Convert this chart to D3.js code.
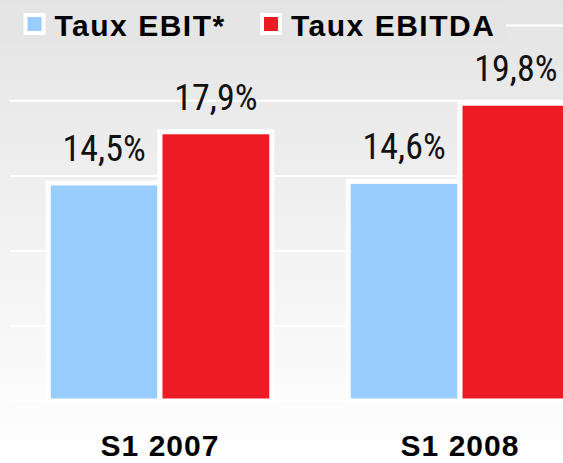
<!DOCTYPE html>
<html>
<head>
<meta charset="utf-8">
<script src="https://cdnjs.cloudflare.com/ajax/libs/d3/7.8.5/d3.min.js"></script>
<style>
  body { margin: 0; overflow: hidden; }
  .value { font-family: 'Liberation Sans Narrow', 'Roboto Condensed', 'DejaVu Sans Condensed', sans-serif; font-size: 36px; fill: #111; }
  .legend-text, .cat { font-family: 'Liberation Sans', Arial, sans-serif; font-weight: bold; font-size: 30px; fill: #000; }
  .legend-text { letter-spacing: 1.5px; }
  .cat { letter-spacing: 1px; }
</style>
</head>
<body>
<script>
const categories = ['S1 2007', 'S1 2008'];
const series = ['Taux EBIT*', 'Taux EBITDA'];
const ebit = [14.5, 14.6];
const ebitda = [17.9, 19.8];
const yTicks = [0, 5, 10, 15, 20, 25];
const colors = ['#99ccff', '#ed1c24'];

document.addEventListener('DOMContentLoaded', () => {
  const w = 563;
  const h = 463;
  const values = [ebit, ebitda];

  const svg = d3.select('body')
                .append('svg')
                .attr('width', w)
                .attr('height', h);

  const grad = svg.append('defs').append('linearGradient')
                  .attr('id', 'bg').attr('x1', 0).attr('y1', 0).attr('x2', 0).attr('y2', 1);
  grad.append('stop').attr('offset', '0%').attr('stop-color', '#e4e4e4');
  grad.append('stop').attr('offset', '100%').attr('stop-color', '#ffffff');

  svg.append('rect').attr('width', w).attr('height', h).attr('fill', 'url(#bg)');

  const xScale = d3.scaleBand()
                   .domain(categories)
                   .range([10, 610])
                   .paddingInner(0.255)
                   .paddingOuter(0.1275);
  const xSub = d3.scaleBand()
                 .domain(series)
                 .range([0, xScale.bandwidth()]);
  const yScale = d3.scaleLinear()
                   .domain([0, 25])
                   .range([401, 25]);

  // gridlines
  const yAxis = d3.axisLeft(yScale).tickValues(yTicks).tickSize(-(w - 10)).tickFormat('');
  const gy = svg.append('g').attr('transform', 'translate(10,0)').call(yAxis);
  gy.select('.domain').remove();
  gy.selectAll('line').attr('stroke', '#ffffff').attr('stroke-width', 2);

  // legend box hides the top gridline
  svg.append('rect').attr('x', 0).attr('y', 5).attr('width', 506).attr('height', 40).attr('fill', '#e5e5e5');

  const fmt = d3.formatLocale({ decimal: ',', thousands: ' ', grouping: [3], currency: ['', '€'] }).format('.1f');

  series.forEach((s, si) => {
    const g = svg.append('g');
    g.selectAll('rect')
     .data(categories)
     .enter()
     .append('rect')
     .attr('x', (d) => xScale(d) + xSub(s))
     .attr('y', (d, i) => yScale(values[si][i]))
     .attr('width', xSub.bandwidth())
     .attr('height', (d, i) => yScale(0) - yScale(values[si][i]))
     .attr('fill', colors[si])
     .attr('stroke', '#ffffff')
     .attr('stroke-width', 5);
    g.selectAll('text')
     .data(categories)
     .enter()
     .append('text')
     .attr('class', 'value')
     .attr('x', (d) => xScale(d) + xSub(s) + xSub.bandwidth() / 2)
     .attr('y', (d, i) => yScale(values[si][i]) - 22)
     .attr('text-anchor', 'middle')
     .text((d, i) => fmt(values[si][i]) + '%');
  });

  // category labels
  svg.selectAll('.cat')
     .data(categories)
     .enter()
     .append('text')
     .attr('class', 'cat')
     .attr('x', (d) => xScale(d) + xScale.bandwidth() / 2)
     .attr('y', 456)
     .attr('text-anchor', 'middle')
     .text((d) => d);

  // legend
  const legendX = [25.5, 262];
  series.forEach((s, si) => {
    svg.append('rect').attr('x', legendX[si]).attr('y', 15).attr('width', 18).attr('height', 18)
       .attr('fill', colors[si]).attr('stroke', '#ffffff').attr('stroke-width', 4);
    svg.append('text').attr('class', 'legend-text').attr('x', legendX[si] + 29).attr('y', 36).text(s);
  });
});
</script>
</body>
</html>
